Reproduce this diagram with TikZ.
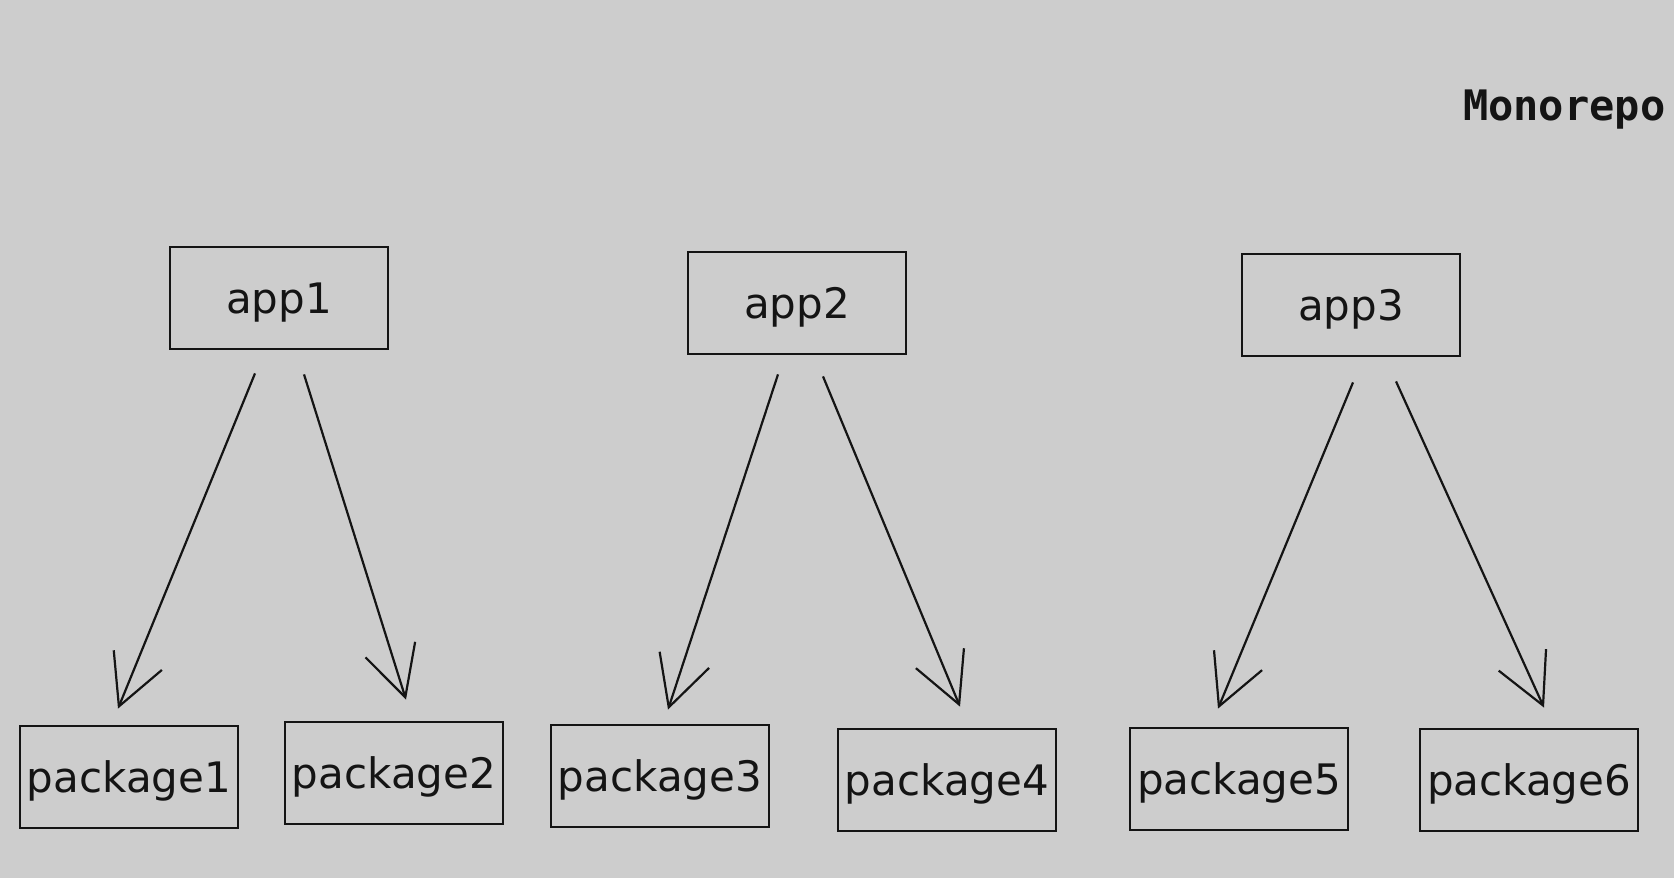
\documentclass[tikz,border=0pt]{standalone}
\usepackage{fontspec}
\setmainfont{DejaVu Sans}
\newfontfamily\monofont{DejaVu Sans Mono}
\usetikzlibrary{arrows.meta,calc}
\definecolor{bg}{RGB}{205,205,205}
\definecolor{ink}{RGB}{20,20,20}
\tikzset{
  box/.style={draw=ink,line width=1.4pt,minimum width=109pt,minimum height=51pt,
    inner sep=0pt,text height=15pt,text depth=0pt,
    font=\fontsize{21}{25}\selectfont,text=ink},
  dep/.style={draw=ink,line width=1.1pt,-{Straight Barb[length=25pt,width=26pt,line width=1.1pt]}}
}
\begin{document}
\begin{tikzpicture}[x=0.5pt,y=-0.5pt]
\fill[bg] (0,0) rectangle (1674,878);
\node[anchor=base west,font=\monofont\bfseries\fontsize{21}{25}\selectfont,text=ink] (title) at (1456,120) {Monorepo};
% apps
\node[box] (app1) at (279,298) {app1};
\node[box] (app2) at (797,303) {app2};
\node[box] (app3) at (1351,305) {app3};
% packages
\node[box] (pkg1) at (129,777) {package1};
\node[box] (pkg2) at (394,773) {package2};
\node[box] (pkg3) at (660,776) {package3};
\node[box] (pkg4) at (947,780) {package4};
\node[box] (pkg5) at (1239,779) {package5};
\node[box] (pkg6) at (1529,780) {package6};
% dependencies
\draw[dep] ($(app1.south)+(-24,23)$) -- ($(pkg1.north)+(-11,-16)$);
\draw[dep] ($(app1.south)+(25,24)$) -- ($(pkg2.north)+(12,-21)$);
\draw[dep] ($(app2.south)+(-19,19)$) -- ($(pkg3.north)+(8,-14)$);
\draw[dep] ($(app2.south)+(26,21)$) -- ($(pkg4.north)+(13,-21)$);
\draw[dep] ($(app3.south)+(2,25)$) -- ($(pkg5.north)+(-21,-18)$);
\draw[dep] ($(app3.south)+(45,24)$) -- ($(pkg6.north)+(15,-20)$);
\end{tikzpicture}
\end{document}
